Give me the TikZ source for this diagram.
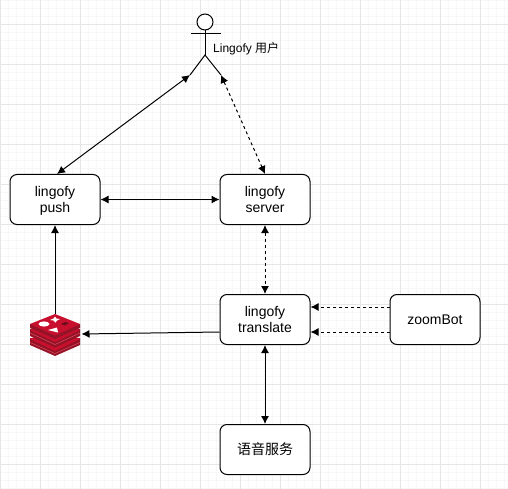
\documentclass[tikz,border=0pt]{standalone}
\usepackage{fontspec}
\setmainfont{Liberation Sans}
\newfontfamily\cjk{Noto Sans CJK SC}
\usetikzlibrary{arrows.meta}
\definecolor{gridmajor}{RGB}{230,230,230}
\definecolor{gridminor}{RGB}{247,247,247}
\definecolor{redisa}{RGB}{200,16,46}
\definecolor{redisb}{RGB}{150,18,38}
\definecolor{redisc}{RGB}{225,90,105}
\newcommand\boxlabel[1]{\raisebox{-1.5pt}[\height][\depth]{\begin{tabular}{@{}c@{}}#1\end{tabular}}}
\tikzset{
  box/.style={draw=black,line width=1pt,rounded corners=7pt,minimum width=90pt,minimum height=50pt,inner sep=0pt,font=\fontsize{14}{16.5}\selectfont,fill=white},
  conn/.style={line width=1pt,{Latex[length=8pt,width=8pt]}-{Latex[length=8pt,width=8pt]}},
  oneway/.style={line width=1pt,-{Latex[length=8pt,width=8pt]}},
  dash2/.style={dash pattern=on 3pt off 3pt},
  figure/.style={line width=1pt,draw=black},
  layerside/.style={fill=redisb},
  layertop/.style={fill=redisa},
  layeredge/.style={draw=redisc,line width=0.4pt}
}
\begin{document}
\begin{tikzpicture}[x=1pt,y=-1pt]
\useasboundingbox (0,0) rectangle (508,489);
\fill[white] (0,0) rectangle (508,489);
% grid
\foreach \x in {0,8,...,508} \draw[gridminor,line width=0.6pt] (\x,0) -- (\x,489);
\foreach \y in {0,8,...,488} \draw[gridminor,line width=0.6pt] (0,\y) -- (508,\y);
\foreach \x in {0,40,...,500} \draw[gridmajor,line width=0.7pt] (\x,0) -- (\x,489);
\foreach \y in {24,64,...,488} \draw[gridmajor,line width=0.7pt] (0,\y) -- (508,\y);
% nodes
\node[box] (push) at (55,199.5) {\boxlabel{lingofy\\push}};
\node[box] (server) at (265,199.5) {\boxlabel{lingofy\\server}};
\node[box] (translate) at (265,319.5) {\boxlabel{lingofy\\translate}};
\node[box] (bot) at (435,319.5) {\boxlabel{zoomBot}};
\node[box] (voice) at (265,449.5) {\boxlabel{\cjk 语音服务}};
% user figure
\node[draw=black,line width=1pt,circle,minimum size=16pt,inner sep=0pt,fill=white] (head) at (205,22) {};
\coordinate (crotch) at (205,55);
\coordinate (lfoot) at (190,75);
\coordinate (rfoot) at (221,75);
\coordinate (larm) at (191,34);
\coordinate (rarm) at (221,34);
\draw[figure] (head.south) -- (crotch);
\draw[figure] (larm) -- (rarm);
\draw[figure] (lfoot) -- (crotch) -- (rfoot);
\node[anchor=west,inner sep=0pt,font=\fontsize{12}{13}\selectfont] (userlabel) at (213,48.5) {Lingofy {\cjk 用户}};
% redis icon
\coordinate (redis) at (55,335);
\coordinate (redisr) at (81.5,334);
\begin{scope}
\fill[layerside] (30,338) -- (30,345) -- (55,356) -- (80,345) -- (80,338) -- cycle;
\fill[layertop] (30,339) -- (55,328) -- (80,339) -- (55,351) -- cycle;
\draw[layeredge] (30,342.5) -- (55,353.5) -- (80,342.5);
\fill[layerside] (30,329) -- (30,336) -- (55,347.5) -- (80,336) -- (80,329) -- cycle;
\fill[layertop] (30,330) -- (55,319) -- (80,330) -- (55,342) -- cycle;
\draw[layeredge] (30,333) -- (55,344.5) -- (80,333);
\fill[layerside] (30,324) -- (30,328) -- (55,339) -- (80,328) -- (80,324) -- cycle;
\fill[layertop] (30,324) -- (55,314) -- (80,324) -- (55,335.5) -- cycle;
\fill[white] (44,324) ellipse[x radius=5.5pt,y radius=2.6pt];
\fill[white] (55,316.5) -- (56.5,318.5) -- (60,319) -- (57,320.5) -- (55.5,322.5) -- (53.5,320.5) -- (50,320) -- (53.5,318.5) -- cycle;
\fill[white] (48,330) -- (57,327.5) -- (58,332.5) -- cycle;
\fill[redisb!70!black] (61,324) -- (65,322) -- (69,323) -- (65,325.5) -- cycle;
\end{scope}
% connectors
\draw[conn] (push.north) ++(2,0) coordinate (pushtop) (pushtop) -- (lfoot);
\draw[conn,dash2] (server.north) -- (rfoot);
\draw[conn] (push) -- (server);
\draw[conn,dash2] (server) -- (translate);
\draw[conn] (translate) -- (voice);
\draw[oneway] (redis |- 0,314) coordinate (redistop) (redistop) -- (push.south);
\draw[oneway] (translate.west |- 0,332) coordinate (tl) (tl) -- (redisr);
\draw[oneway,dash2] (bot.west |- 0,307) coordinate (b1) (b1) -- (translate.east |- b1);
\draw[oneway,dash2] (bot.west |- 0,332) coordinate (b2) (b2) -- (translate.east |- b2);
\end{tikzpicture}
\end{document}
